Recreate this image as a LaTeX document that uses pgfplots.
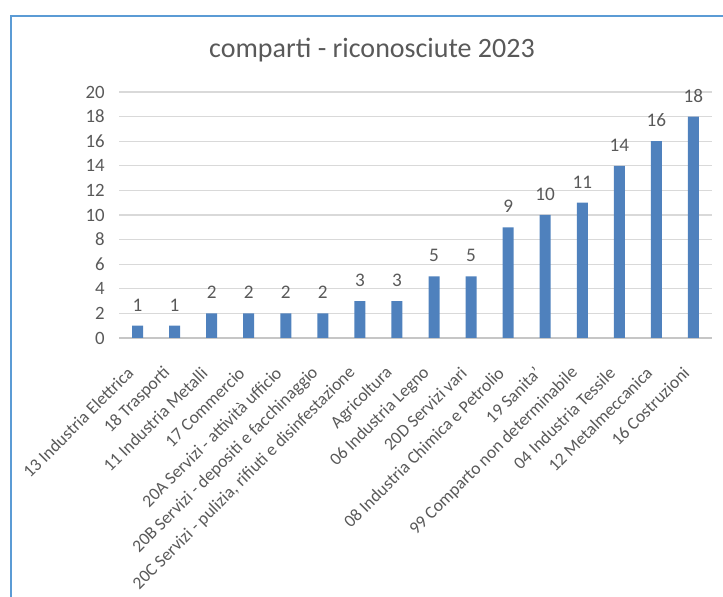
\documentclass[border=0pt]{standalone}
\usepackage{fontspec}
\setmainfont{Carlito}
\usepackage{pgfplots}
\pgfplotsset{compat=1.18}
\definecolor{barblue}{RGB}{79,129,189}
\definecolor{frameblue}{RGB}{91,155,213}
\definecolor{txtgray}{RGB}{89,89,89}
\definecolor{gridgray}{RGB}{217,217,217}
\begin{document}
\begin{tikzpicture}
% 1px of the reference = 0.5pt
\begin{axis}[
    at={(59.5pt,129.5pt)},
    anchor=south west,
    scale only axis,
    width=296.5pt,
    height=123pt,
    ybar,
    bar width=5.5pt,
    xmin=-0.5, xmax=15.5,
    ymin=0, ymax=20,
    ytick={0,2,...,20},
    xtick=data,
    xticklabels={
        13 Industria Elettrica,
        18 Trasporti,
        11 Industria Metalli,
        17 Commercio,
        20A Servizi - attività ufficio,
        20B Servizi - depositi e facchinaggio,
        {20C Servizi - pulizia, rifiuti e disinfestazione},
        Agricoltura,
        06 Industria Legno,
        20D Servizi vari,
        08 Industria Chimica e Petrolio,
        19 Sanita',
        99 Comparto non determinabile,
        04 Industria Tessile,
        12 Metalmeccanica,
        16 Costruzioni},
    axis line style={draw=none},
    major tick length=0pt,
    ymajorgrids=true,
    grid style={gridgray, line width=0.6pt},
    extra y ticks={0},
    extra y tick labels={},
    extra y tick style={grid style={gray!45, line width=0.6pt}},
    tick label style={font=\fontsize{9.4}{11}\selectfont, text=txtgray},
    /pgf/number format/assume math mode=true,
    yticklabel style={anchor=east, inner sep=0pt, xshift=-7pt},
    xticklabel style={font=\fontsize{8.8}{10}\selectfont, xshift=-3.5pt, yshift=-16pt, rotate=45, anchor=east, inner sep=0pt},
    nodes near coords,
    nodes near coords style={font=\fontsize{9.6}{11}\selectfont, text=txtgray, anchor=south, inner sep=0pt, yshift=7pt},
    clip=false,
]
\addplot[fill=barblue, draw=none] coordinates {
    (0,1) (1,1) (2,2) (3,2) (4,2) (5,2) (6,3) (7,3)
    (8,5) (9,5) (10,9) (11,10) (12,11) (13,14) (14,16) (15,18)
};
\end{axis}
\node[font=\fontsize{14}{16}\selectfont, text=txtgray] at (186pt,273.5pt) {comparti - riconosciute 2023};
\draw[frameblue, line width=1pt] (5.5pt,0pt) -- (5.5pt,290.5pt) -- (361.5pt,290.5pt);
\pgfresetboundingbox
\path (0,0) rectangle (361.5pt,298.5pt);
\end{tikzpicture}
\end{document}
